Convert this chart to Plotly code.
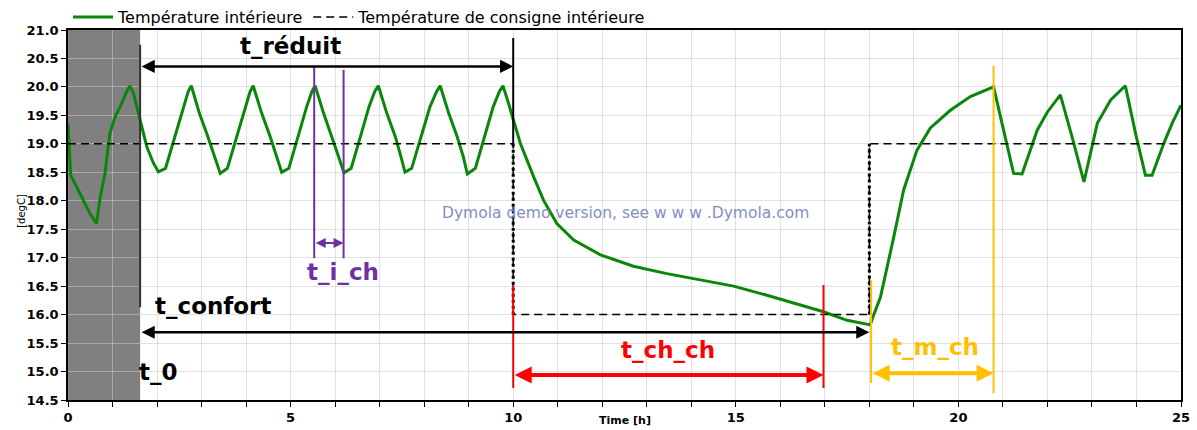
import plotly.graph_objects as go

# Indoor temperature over the simulated day [h, degC]
time_h = [
    0.00, 0.03, 0.06, 0.19, 0.34, 0.49, 0.64, 0.72, 0.83, 0.91, 0.94, 1.06, 1.17, 1.32, 1.39,
    1.47, 1.62, 1.77, 1.92, 2.03, 2.19, 2.40, 2.59, 2.70, 2.77, 2.95, 3.14, 3.29, 3.42,
    3.58, 3.79, 3.98, 4.09, 4.16, 4.35, 4.54, 4.69, 4.80, 4.96, 5.17, 5.36, 5.48, 5.55,
    5.74, 5.93, 6.08, 6.20, 6.36, 6.57, 6.76, 6.89, 6.97, 7.16, 7.35, 7.48, 7.57, 7.72,
    7.94, 8.13, 8.28, 8.36, 8.55, 8.74, 8.88, 8.97, 9.15, 9.36, 9.55, 9.69, 9.77, 9.88,
    10.00, 10.16, 10.46, 10.68, 10.98, 11.36, 11.96, 12.70, 13.45, 14.20, 14.95, 15.70,
    16.45, 16.97, 17.50, 18.02, 18.10, 18.25, 18.55, 18.77, 19.07, 19.37, 19.82, 20.27,
    20.79, 21.02, 21.24, 21.43, 21.77, 22.00, 22.29, 22.55, 22.82, 23.12, 23.42, 23.75,
    23.98, 24.20, 24.35, 24.61, 24.80, 25.00,
]
temp_indoor = [
    19.35, 18.90, 18.45, 18.25, 18.01, 17.78, 17.60, 18.05, 18.48, 18.95, 19.18, 19.48, 19.65, 19.92, 20.02,
    19.89, 19.42, 18.95, 18.66, 18.51, 18.57, 19.13, 19.65, 19.92, 20.02, 19.54, 19.13, 18.77, 18.48,
    18.57, 19.13, 19.65, 19.92, 20.02, 19.54, 19.13, 18.77, 18.50, 18.57, 19.13, 19.65, 19.92, 20.02,
    19.54, 19.13, 18.77, 18.49, 18.57, 19.13, 19.65, 19.92, 20.02, 19.54, 19.13, 18.77, 18.50, 18.57,
    19.13, 19.65, 19.92, 20.02, 19.54, 19.13, 18.77, 18.47, 18.57, 19.13, 19.65, 19.92, 20.02, 19.75,
    19.45, 19.01, 18.42, 18.01, 17.60, 17.31, 17.05, 16.85, 16.72, 16.61, 16.50, 16.34,
    16.17, 16.05, 15.90, 15.82, 16.00, 16.31, 17.37, 18.19, 18.89, 19.28, 19.59, 19.83,
    20.00, 19.22, 18.48, 18.47, 19.24, 19.56, 19.86, 19.13, 18.33, 19.36, 19.77, 20.02,
    19.18, 18.45, 18.45, 19.00, 19.36, 19.68,
]

# Indoor setpoint schedule (step profile)
sp_time = [0, 10, 10, 18, 18, 25]
sp_temp = [19, 19, 16, 16, 19, 19]

# Key instants of the heating schedule [h]
t_0 = 1.62            # end of initialisation
t_red_end = 10.0      # end of reduced (setback) period
t_ich_a, t_ich_b = 5.53, 6.19   # one heating cycle
t_chch_end = 16.97    # cooling period end
t_conf_end = 18.0     # comfort restart
t_mch_end = 20.79     # recovery end

Y_MIN, Y_MAX = 14.5, 21.0
GREEN = "#0a870a"
PURPLE = "#7030a0"
RED = "#ff0000"
ORANGE = "#ffc000"
BOLD = "DejaVu Sans"

fig = go.Figure()

fig.add_trace(go.Scatter(
    x=time_h, y=temp_indoor, mode="lines", name="Température intérieure",
    line=dict(color=GREEN, width=3),
))
fig.add_trace(go.Scatter(
    x=sp_time, y=sp_temp, mode="lines", name="Température de consigne intérieure",
    line=dict(color="black", width=1.5, dash="8px,5px"),
))
# step transitions of the setpoint, drawn dotted and heavier
for i in range(len(sp_time) - 1):
    if sp_time[i] == sp_time[i + 1]:
        fig.add_trace(go.Scatter(
            x=sp_time[i:i + 2], y=sp_temp[i:i + 2], mode="lines", showlegend=False,
            line=dict(color="black", width=3, dash="3px,3px"), hoverinfo="skip",
        ))

shapes = [
    # initialisation period
    dict(type="rect", x0=0, x1=t_0, y0=Y_MIN, y1=Y_MAX,
         fillcolor="#808080", line=dict(width=0), layer="below"),
    dict(type="line", x0=t_0, x1=t_0, y0=16.13, y1=20.74, line=dict(color="#333333", width=2)),
    dict(type="line", x0=t_red_end, x1=t_red_end, y0=19.0, y1=20.86, line=dict(color="black", width=2)),
    dict(type="line", x0=t_ich_a, x1=t_ich_a, y0=16.99, y1=20.36, line=dict(color=PURPLE, width=2)),
    dict(type="line", x0=t_ich_b, x1=t_ich_b, y0=16.99, y1=20.30, line=dict(color=PURPLE, width=2)),
    dict(type="line", x0=t_red_end, x1=t_red_end, y0=14.71, y1=16.52, line=dict(color=RED, width=2)),
    dict(type="line", x0=t_chch_end, x1=t_chch_end, y0=14.71, y1=16.52, line=dict(color=RED, width=2)),
    dict(type="line", x0=t_conf_end + 0.04, x1=t_conf_end + 0.04, y0=14.80, y1=16.61, line=dict(color=ORANGE, width=2)),
    dict(type="line", x0=t_mch_end, x1=t_mch_end, y0=14.62, y1=20.37, line=dict(color=ORANGE, width=2)),
]
for s in shapes:
    s.setdefault("xref", "x")
    s.setdefault("yref", "y")
fig.update_layout(shapes=shapes)


def span_arrow(x0, x1, y, color, width, size):
    fig.add_annotation(
        x=x1, y=y, ax=x0, ay=y, xref="x", yref="y", axref="x", ayref="y",
        text="", showarrow=True, arrowhead=2, startarrowhead=2, arrowside="end+start",
        arrowwidth=width, arrowsize=size, startarrowsize=size, arrowcolor=color,
        standoff=0, startstandoff=0,
    )


def label(x, y, text, color, xanchor="center"):
    fig.add_annotation(
        x=x, y=y, xref="x", yref="y", text=text, showarrow=False, xanchor=xanchor,
        yanchor="middle", font=dict(family=BOLD, size=23, color=color, weight="bold"),
    )


span_arrow(t_0, t_red_end, 20.36, "black", 2.5, 1.05)
span_arrow(t_0, t_conf_end, 15.69, "black", 2.5, 1.05)
span_arrow(t_ich_a, t_ich_b, 17.26, PURPLE, 2, 1.0)
span_arrow(t_red_end, t_chch_end, 14.94, RED, 4, 0.85)
span_arrow(t_conf_end + 0.04, t_mch_end, 14.97, ORANGE, 4, 0.85)

label(4.99, 20.72, "t_réduit", "black")
label(1.91, 16.15, "t_confort", "black", xanchor="left")
label(1.55, 14.99, "t_0", "black", xanchor="left")
label(6.18, 16.75, "t_i_ch", PURPLE)
label(13.48, 15.38, "t_ch_ch", RED)
label(19.48, 15.43, "t_m_ch", ORANGE)

# demo-version watermark
fig.add_annotation(
    x=12.52, y=17.78, xref="x", yref="y", text="Dymola demo version, see w w w .Dymola.com",
    showarrow=False, font=dict(family="DejaVu Sans", size=15.5, color="#8290c0"),
)

# axis titles
fig.add_annotation(
    x=0.5, y=-0.033, xref="paper", yref="paper", text="Time [h]", showarrow=False,
    yanchor="top", font=dict(family=BOLD, size=11, color="black", weight="bold"),
)
fig.add_annotation(
    x=-0.0485, y=0.51, xref="paper", yref="paper", text="[degC]", showarrow=False,
    textangle=-90, font=dict(family="DejaVu Sans", size=10, color="black"),
)

x_ticks = list(range(0, 26))
x_text = [str(v) if v % 5 == 0 else "" for v in x_ticks]

fig.update_xaxes(
    range=[0, 25], tickmode="array", tickvals=x_ticks, ticktext=x_text,
    showgrid=True, gridcolor="rgba(200,200,200,0.55)", gridwidth=1,
    showline=True, linecolor="black", linewidth=1.5, mirror=True,
    ticks="outside", ticklen=5, tickcolor="black",
    tickfont=dict(family=BOLD, size=13, color="black", weight="bold"),
    zeroline=False,
)
fig.update_yaxes(
    range=[Y_MIN, Y_MAX], dtick=0.5, tick0=14.5, tickformat=".1f",
    showgrid=True, gridcolor="rgba(200,200,200,0.55)", gridwidth=1,
    showline=True, linecolor="black", linewidth=1.5, mirror=True,
    ticks="outside", ticklen=5, tickcolor="black",
    tickfont=dict(family=BOLD, size=13, color="black", weight="bold"),
    zeroline=False,
)

fig.update_layout(
    width=1197, height=430,
    margin=dict(l=68, r=16, t=30, b=30, autoexpand=False),
    paper_bgcolor="white", plot_bgcolor="white",
    showlegend=True,
    legend=dict(
        orientation="h", x=0.0, y=1.0, xanchor="left", yanchor="top",
        xref="paper", yref="container",
        font=dict(family="DejaVu Sans", size=16, color="black"),
        bgcolor="rgba(0,0,0,0)", itemwidth=40,
    ),
)

fig.write_html("out.html")
